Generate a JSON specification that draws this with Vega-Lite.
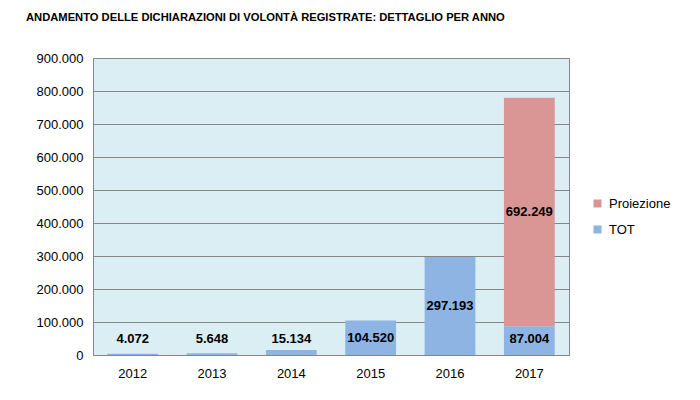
{
  "$schema": "https://vega.github.io/schema/vega-lite/v6.json",
  "width": 476,
  "height": 297,
  "padding": {"left": 26, "top": 11, "right": 5, "bottom": 5},
  "title": {
    "text": "ANDAMENTO DELLE DICHIARAZIONI DI VOLONTÀ REGISTRATE: DETTAGLIO PER ANNO",
    "anchor": "start",
    "frame": "group",
    "dx": -67,
    "offset": 29,
    "font": "Liberation Sans",
    "fontSize": 11.2,
    "fontWeight": "bold",
    "color": "#000000"
  },
  "data": {
    "values": [
      {"anno": "2012", "serie": "TOT", "valore": 4072},
      {"anno": "2013", "serie": "TOT", "valore": 5648},
      {"anno": "2014", "serie": "TOT", "valore": 15134},
      {"anno": "2015", "serie": "TOT", "valore": 104520},
      {"anno": "2016", "serie": "TOT", "valore": 297193},
      {"anno": "2017", "serie": "TOT", "valore": 87004},
      {"anno": "2017", "serie": "Proiezione", "valore": 692249}
    ]
  },
  "layer": [
    {
      "mark": {"type": "bar"},
      "encoding": {
        "x": {
          "field": "anno", "type": "nominal",
          "scale": {"paddingInner": 0.36, "paddingOuter": 0.18},
          "axis": {"title": null, "labelAngle": 0, "ticks": false, "labelPadding": 12, "domain": true, "domainColor": "#868686"}
        },
        "y": {
          "field": "valore", "type": "quantitative", "stack": "zero",
          "scale": {"domain": [0, 900000], "nice": false},
          "axis": {"title": null, "format": ",d", "values": [0,100000,200000,300000,400000,500000,600000,700000,800000,900000], "ticks": false, "labelPadding": 10, "labelOverlap": false, "labelFlush": false, "minExtent": 57, "maxExtent": 57, "grid": true, "gridColor": "#868686", "gridOpacity": 1, "domain": false}
        },
        "color": {
          "field": "serie", "type": "nominal",
          "scale": {"domain": ["Proiezione", "TOT"], "range": ["#D99694", "#8EB4E3"]},
          "legend": {"title": null, "orient": "none", "legendX": 498, "legendY": 139, "symbolType": "square", "symbolSize": 64, "symbolStrokeWidth": 0, "labelFontSize": 13, "labelFont": "Liberation Sans", "labelColor": "#000000", "rowPadding": 12, "labelOffset": 5}
        },
        "order": {"field": "serie", "sort": "descending"}
      }
    },
    {
      "transform": [
        {"stack": "valore", "groupby": ["anno"], "as": ["y0", "y1"], "sort": [{"field": "serie", "order": "descending"}]},
        {"calculate": "max((datum.y0 + datum.y1) / 2, 48000)", "as": "ylab"}
      ],
      "mark": {"type": "text", "fontWeight": "bold", "fontSize": 13, "font": "Liberation Sans", "color": "#000000", "baseline": "middle"},
      "encoding": {
        "x": {"field": "anno", "type": "nominal"},
        "y": {
          "field": "ylab", "type": "quantitative",
          "scale": {"domain": [0, 900000], "nice": false},
          "axis": {"title": null, "format": ",d", "values": [0,100000,200000,300000,400000,500000,600000,700000,800000,900000], "ticks": false, "labelPadding": 10, "labelOverlap": false, "labelFlush": false, "minExtent": 57, "maxExtent": 57, "grid": true, "gridColor": "#868686", "gridOpacity": 1, "domain": false}
        },
        "text": {"field": "valore", "type": "quantitative", "format": ",d"}
      }
    }
  ],
  "config": {
    "locale": {"number": {"decimal": ",", "thousands": ".", "grouping": [3], "currency": ["€", ""]}},
    "view": {"fill": "#DBEEF4", "stroke": "#868686", "strokeWidth": 1},
    "axis": {"labelFont": "Liberation Sans", "labelFontSize": 13, "labelColor": "#000000"}
  }
}
